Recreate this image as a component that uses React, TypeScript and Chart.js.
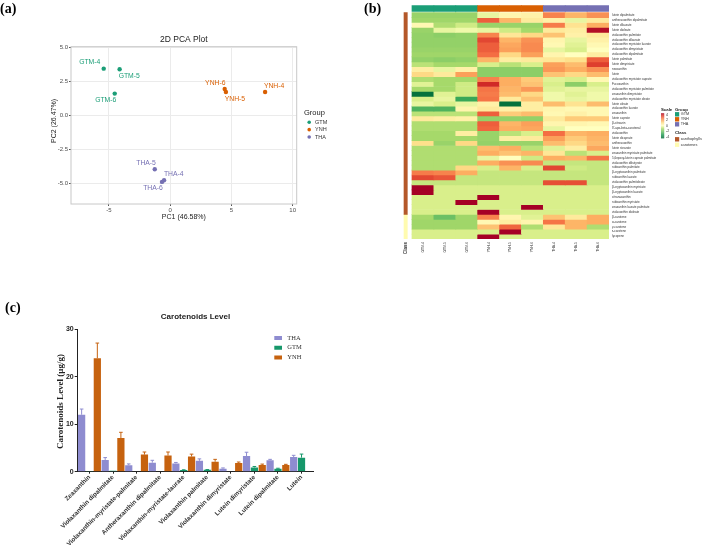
import React, { useEffect, useRef } from 'react';
import { Chart, registerables } from 'chart.js';

Chart.register(...registerables);

const SANS = '"Liberation Sans", Arial, Helvetica, sans-serif';
const SERIF = '"Liberation Serif", "Times New Roman", serif';

// ---------------- Panel (a): PCA ----------------
const pcaGroups = ['GTM', 'YNH', 'THA'];
const pcaColors = ['#1b9e77', '#d95f02', '#7570b3'];
const gtmSamples = ['GTM-4', 'GTM-5', 'GTM-6'];
const gtmPC1 = [-5.43, -4.13, -4.53];
const gtmPC2 = [3.45, 3.41, 1.61];
const ynhSamples = ['YNH-4', 'YNH-5', 'YNH-6'];
const ynhPC1 = [7.75, 4.55, 4.45];
const ynhPC2 = [1.73, 1.73, 1.95];
const thaSamples = ['THA-4', 'THA-5', 'THA-6'];
const thaPC1 = [-0.5, -1.26, -0.67];
const thaPC2 = [-4.78, -3.97, -4.9];
const pc1Ticks = [-5, 0, 5, 10];
const pc2Ticks = [-5, -2.5, 0, 2.5, 5];

// ---------------- Panel (b): heatmap ----------------
const heatColumns = ['GTM-4', 'GTM-5', 'GTM-6', 'YNH-4', 'YNH-5', 'YNH-6', 'THA-4', 'THA-5', 'THA-6'];
const columnGroups = ['GTM', 'GTM', 'GTM', 'YNH', 'YNH', 'YNH', 'THA', 'THA', 'THA'];
const metabolites = [
  'lutein dipalmitate', 'antheraxanthin dipalmitate', 'lutein dilaurate', 'lutein dioleate',
  'violaxanthin palmitate', 'violaxanthin dilaurate', 'violaxanthin myristate laurate',
  'violaxanthin dimyristate', 'violaxanthin dipalmitate', 'lutein palmitate', 'lutein dimyristate',
  'neoxanthin', 'lutein', 'violaxanthin myristate caprate', 'Fucoxanthin',
  'violaxanthin myristate palmitate', 'zeaxanthin dimyristate', 'violaxanthin myristate oleate',
  'lutein oleate', 'violaxanthin laurate', 'zeaxanthin', 'lutein caprate', 'β-citraurin',
  "8'-apo-beta-carotenal", 'violaxanthin', 'lutein dicaprate', 'antheraxanthin', 'lutein stearate',
  'zeaxanthin myristate palmitate', '5,6epoxy-lutein caprate palmitate', 'violaxanthin dibutyrate',
  'rubixanthin palmitate', 'β-cryptoxanthin palmitate', 'rubixanthin laurate',
  'violaxanthin palmitoleate', 'β-cryptoxanthin myristate', 'β-cryptoxanthin laurate',
  'citranaxanthin', 'rubixanthin myristate', 'zeaxanthin laurate palmitate', 'violaxanthin dioleate',
  'β-carotene', 'α-carotene', 'γ-carotene', 'ε-carotene', 'lycopene'
];
const classNames = ['xanthophylls', 'carotenes'];
const classRowCounts = [41, 5];
const classColors = ['#b4582a', '#fffbb0'];

const gtmScores = [
  [-1.2, -1.2, -1.2], [-1.1, -1.1, -1.1], [0.2, -0.9, -0.6], [-1.2, -0.3, -0.2],
  [-1.3, -1.4, -1.3], [-1.3, -1.3, -1.3], [-1.3, -1.3, -1.3], [-1.2, -1.2, -1.2],
  [-1.1, -1.1, -1.1], [-1.3, -1.4, -1.3], [-0.8, -1.0, -1.0], [0.5, -0.3, 0.4],
  [1.0, 0.6, 1.8], [-0.9, -1.0, -1.0], [-0.4, -1.0, -0.6], [-1.0, -1.0, -0.6],
  [-3.8, -0.4, -0.6], [-0.5, -0.3, -2.6], [-0.3, -0.5, -0.3], [-2.3, -2.3, 0.3],
  [-0.8, -0.8, -0.8], [0.6, 0.5, 0.4], [-0.9, -0.9, -0.9], [-0.9, -0.9, -0.9],
  [-1.0, -1.0, 0.5], [-1.0, -1.0, -1.0], [0.9, -1.2, 1.0], [-0.9, -0.9, -0.9],
  [-0.9, -0.9, -0.9], [-0.9, -0.9, -0.9], [-0.9, -0.9, -0.9], [-0.9, -0.9, 1.0],
  [2.3, 2.2, 1.6], [3.0, 2.8, -0.7], [-0.7, -0.7, -0.7], [4, -0.5, -0.5],
  [4, -0.5, -0.5], [-0.5, -0.5, -0.5], [-0.5, -0.5, 4], [-0.5, -0.5, -0.5],
  [-0.5, -0.5, -0.5], [-1.0, -1.9, -1.1], [-1.1, -1.1, -1.1], [-1.1, -1.1, -1.1],
  [-0.5, -0.5, -0.5], [-0.5, -0.5, -0.5]
];
const ynhScores = [
  [-0.3, 0.3, 0.4], [2.7, 1.5, 0.6], [-1.2, -1.2, -1.2], [-0.3, -0.6, -1.0],
  [2.2, 0.7, 1.0], [3.0, 1.5, 2.0], [2.7, 1.7, 2.1], [2.7, 1.8, 2.1],
  [2.5, 1.0, 1.8], [1.5, 0.5, 0.6], [-0.5, -0.8, -0.5], [-1.4, -1.4, -1.4],
  [-1.4, -1.4, -1.4], [2.2, 1.6, 1.2], [3.4, 1.6, 1.3], [2.4, 1.5, 1.9],
  [2.3, 1.4, 1.0], [2.4, 0.6, 1.3], [0.4, -3.8, 0.5], [0.6, 0.4, 0.5],
  [2.7, 1.2, 1.4], [-1.3, -1.3, -1.3], [2.7, 1.5, 1.8], [2.6, 1.6, 1.7],
  [-1.2, -0.8, -0.5], [-1.2, 0.5, 0.6], [-1.3, -1.2, -1.2], [1.4, 1.6, -0.8],
  [1.6, 1.3, 1.5], [-0.3, 0.0, -0.6], [1.6, 2.0, 2.1], [-0.5, 1.5, -0.5],
  [-0.7, -0.7, -0.7], [-0.7, -0.7, -0.7], [-0.7, -0.7, -0.7], [-0.5, -0.5, -0.5],
  [-0.5, -0.5, -0.5], [4, -0.5, -0.5], [-0.5, -0.5, -0.5], [-0.5, -0.5, 4],
  [4, -0.5, -0.5], [2.2, 0.3, -0.4], [0.2, 0.5, 0.3], [1.3, 2.6, -0.9],
  [-0.5, 4, -0.5], [4, -0.5, -0.5]
];
const thaScores = [
  [2.2, 1.5, 2.0], [0.4, -0.3, 0.6], [2.3, 0.8, 1.6], [0.6, 0.5, 3.8],
  [1.3, 0.4, 0.6], [0.3, -0.3, 0.4], [0.2, -0.4, 0.2], [-0.3, -0.5, 0.0],
  [0.3, 0.0, 0.5], [0.7, 0.9, 2.7], [1.8, 1.4, 3.1], [1.9, 1.6, 2.0],
  [1.3, 1.0, 1.4], [-0.4, -0.5, 0.2], [-0.5, -1.4, -0.5], [-0.4, -0.3, -0.3],
  [-0.2, -0.4, -0.2], [-0.2, -0.3, -0.2], [1.4, 0.8, 1.4], [0.3, 0.2, 0.2],
  [0.2, 0.4, 0.2], [0.6, 1.2, 1.2], [0.3, 0.3, 0.2], [-0.3, 0.0, 0.0],
  [2.5, 1.5, 1.6], [1.8, 1.2, 1.5], [1.4, 1.0, 1.4], [-0.4, 0.5, 1.7],
  [0.7, -0.8, -0.5], [1.6, 1.5, 2.4], [-0.7, -0.7, -0.7], [3.0, -0.6, -0.7],
  [-0.7, -0.7, -0.7], [-0.7, -0.7, -0.7], [2.9, 2.9, -0.7], [-0.5, -0.5, -0.5],
  [-0.5, -0.5, -0.5], [-0.5, -0.5, -0.5], [-0.5, -0.5, -0.5], [-0.5, -0.5, -0.5],
  [-0.5, -0.5, -0.5], [1.3, 0.6, 1.6], [2.4, 1.5, 1.6], [0.7, 1.5, -0.9],
  [-0.5, -0.5, -0.5], [-0.5, -0.5, -0.5]
];
const scaleTicks = [4, 2, 0, -2, -4];

// ---------------- Panel (c): bar chart ----------------
const caroCategories = [
  'Zeaxanthin', 'Violaxanthin dipalmitate', 'Violaxanthin-myristate-palmitate',
  'Antheraxanthin dipalmitate', 'Violaxanthin-myristate-laurate', 'Violaxanthin palmitate',
  'Violaxanthin dimyristate', 'Lutein dimyristate', 'Lutein dipalmitate', 'Lutein'
];
const thaLevel = [12.0, 2.47, 1.34, 1.9, 1.75, 2.3, 0.64, 3.3, 2.4, 3.1];
const thaSD = [1.2, 0.5, 0.3, 0.5, 0.2, 0.4, 0.15, 0.8, 0.2, 0.35];
const gtmLevel = [0.05, 0.2, 0.12, 0.12, 0.35, 0.4, 0.1, 0.9, 0.63, 2.96];
const gtmSD = [0, 0, 0, 0, 0.05, 0.05, 0, 0.2, 0.1, 0.75];
const ynhLevel = [23.9, 7.1, 3.6, 3.4, 3.2, 2.1, 1.84, 1.4, 1.4, 0.1];
const ynhSD = [3.2, 1.2, 0.55, 0.75, 0.5, 0.5, 0.2, 0.2, 0.15, 0];
const barGroups = ['THA', 'GTM', 'YNH'];
const barColors = ['#8e8cd0', '#16976a', '#c6620f'];

// ---------------- helpers ----------------
const heatStops: [number, string][] = [
  [-4, '#006837'], [-3, '#1a9850'], [-2, '#66bd63'], [-1, '#a6d96a'], [-0.5, '#d9ef8b'],
  [0, '#ffffbf'], [0.9, '#fee08b'], [1.6, '#fdae61'], [2.5, '#f46d43'], [3.3, '#d73027'], [4, '#a50026']
];
function hexToRgb(h: string) {
  return [parseInt(h.slice(1, 3), 16), parseInt(h.slice(3, 5), 16), parseInt(h.slice(5, 7), 16)];
}
function heatColor(v: number) {
  const x = Math.max(-4, Math.min(4, v));
  for (let i = 0; i < heatStops.length - 1; i++) {
    const [a, ca] = heatStops[i];
    const [b, cb] = heatStops[i + 1];
    if (x >= a && x <= b) {
      const t = (x - a) / (b - a);
      const A = hexToRgb(ca), B = hexToRgb(cb);
      const c = A.map((u, k) => Math.round(u + (B[k] - u) * t));
      return `rgb(${c[0]},${c[1]},${c[2]})`;
    }
  }
  return heatStops[heatStops.length - 1][1];
}
function groupColor(g: string) {
  return pcaColors[pcaGroups.indexOf(g)];
}
function cellScore(r: number, j: number) {
  const g = columnGroups[j];
  const k = j % 3;
  if (g === 'GTM') return gtmScores[r][k];
  if (g === 'YNH') return ynhScores[r][k];
  return thaScores[r][k];
}

const labelNudge: Record<string, [number, number]> = {
  'GTM-4': [-14, -6.4], 'GTM-5': [9.6, 7], 'GTM-6': [-9, 6.3],
  'YNH-4': [9, -6], 'YNH-5': [9, 6.7], 'YNH-6': [-9.4, -6],
  'THA-4': [9.7, -6.6], 'THA-5': [-8.7, -6.3], 'THA-6': [-9, 6.7]
};

export default function App() {
  const refA = useRef<HTMLCanvasElement>(null);
  const refB = useRef<HTMLCanvasElement>(null);
  const refC = useRef<HTMLCanvasElement>(null);

  useEffect(() => {
    const charts: Chart[] = [];

    // ---------- (a) PCA ----------
    const pcaSets = [
      { names: gtmSamples, x: gtmPC1, y: gtmPC2 },
      { names: ynhSamples, x: ynhPC1, y: ynhPC2 },
      { names: thaSamples, x: thaPC1, y: thaPC2 }
    ];
    const pcaDecor = {
      id: 'pcaDecor',
      afterDraw(chart: any) {
        const { ctx, chartArea: a } = chart;
        ctx.save();
        ctx.strokeStyle = '#c8c8c8';
        ctx.lineWidth = 1;
        ctx.strokeRect(a.left, a.top, a.right - a.left, a.bottom - a.top);
        const cx = (a.left + a.right) / 2;
        ctx.fillStyle = '#222';
        ctx.textAlign = 'center';
        ctx.textBaseline = 'middle';
        ctx.font = `8.5px ${SANS}`;
        ctx.fillText('2D PCA Plot', cx, 39.3);
        ctx.font = `7px ${SANS}`;
        ctx.fillText('PC1 (46.58%)', cx, 216.7);
        ctx.save();
        ctx.translate(54.3, 121);
        ctx.rotate(-Math.PI / 2);
        ctx.fillText('PC2 (26.47%)', 0, 0);
        ctx.restore();
        // legend
        ctx.textAlign = 'left';
        ctx.font = `7.5px ${SANS}`;
        ctx.fillText('Group', 304, 113);
        ctx.font = `5.5px ${SANS}`;
        pcaGroups.forEach((g, i) => {
          const yy = 122.3 + i * 7.35;
          ctx.fillStyle = pcaColors[i];
          ctx.beginPath();
          ctx.arc(309.2, yy, 1.8, 0, Math.PI * 2);
          ctx.fill();
          ctx.fillStyle = '#333';
          ctx.fillText(g, 315, yy);
        });
        // point labels
        ctx.textAlign = 'center';
        ctx.font = `6.8px ${SANS}`;
        pcaSets.forEach((s, d) => {
          const meta = chart.getDatasetMeta(d);
          ctx.fillStyle = pcaColors[d];
          s.names.forEach((n, i) => {
            const p = meta.data[i];
            const off = labelNudge[n] || [0, -6];
            ctx.fillText(n, p.x + off[0], p.y + off[1]);
          });
        });
        ctx.restore();
      }
    };
    if (refA.current) {
      charts.push(new Chart(refA.current, {
        type: 'scatter',
        data: {
          datasets: pcaSets.map((s, d) => ({
            label: pcaGroups[d],
            data: s.x.map((x, i) => ({ x, y: s.y[i] })),
            backgroundColor: pcaColors[d],
            borderColor: pcaColors[d],
            pointRadius: 2.2,
            pointHoverRadius: 2.2,
            borderWidth: 0
          }))
        },
        options: {
          responsive: false,
          animation: false,
          events: [],
          layout: { padding: { left: 0, top: 46.7, right: 58.3, bottom: 0 } },
          plugins: { legend: { display: false }, tooltip: { enabled: false } },
          scales: {
            x: {
              type: 'linear', min: -8.1, max: 10.33,
              afterBuildTicks: (ax: any) => { ax.ticks = pc1Ticks.map(v => ({ value: v })); },
              afterFit: (ax: any) => { ax.height = 36; },
              grid: { color: '#ebebeb', tickColor: '#555', tickLength: 2 },
              border: { display: false },
              ticks: { font: { family: SANS, size: 6 }, color: '#4d4d4d', padding: 1, callback: (v: any) => String(v) }
            },
            y: {
              type: 'linear', min: -6.53, max: 5.07,
              afterBuildTicks: (ax: any) => { ax.ticks = pc2Ticks.map(v => ({ value: v })); },
              afterFit: (ax: any) => { ax.width = 71; },
              grid: { color: '#ebebeb', tickColor: '#555', tickLength: 2 },
              border: { display: false },
              ticks: { font: { family: SANS, size: 6 }, color: '#4d4d4d', padding: 1, callback: (v: any) => Number(v).toFixed(1) }
            }
          }
        },
        plugins: [pcaDecor]
      } as any));
    }

    // ---------- (b) heatmap ----------
    const colW = 21.95;
    const classX = -0.29;
    const heatSets: any[] = metabolites.map((name, r) => ({
      label: name,
      data: heatColumns.map((_, j) => ({ x: j + 0.5, y: [r, r + 1] })),
      backgroundColor: heatColumns.map((_, j) => heatColor(cellScore(r, j))),
      barThickness: colW,
      grouped: false,
      borderWidth: 0
    }));
    heatSets.push({
      label: 'Group',
      data: heatColumns.map((_, j) => ({ x: j + 0.5, y: [-1.46, -0.26] })),
      backgroundColor: columnGroups.map(g => groupColor(g)),
      barThickness: colW,
      grouped: false,
      borderWidth: 0
    });
    let acc = 0;
    classNames.forEach((c, k) => {
      const start = acc;
      acc += classRowCounts[k];
      heatSets.push({
        label: c,
        data: [{ x: classX, y: [start, acc] }],
        backgroundColor: classColors[k],
        barThickness: 3.3,
        grouped: false,
        borderWidth: 0
      });
    });
    const heatLegend = {
      id: 'heatLegend',
      afterDraw(chart: any) {
        const { ctx } = chart;
        ctx.save();
        ctx.textBaseline = 'middle';
        ctx.textAlign = 'left';
        ctx.fillStyle = '#222';
        ctx.font = `bold 4.3px ${SANS}`;
        ctx.fillText('Scale', 261, 109.5);
        ctx.fillText('Group', 275, 109.5);
        ctx.fillText('Class', 275, 132.7);
        // color bar
        const top = 113.3, h = 25;
        for (let yy = 0; yy < h; yy++) {
          ctx.fillStyle = heatColor(4 - 8 * (yy + 0.5) / h);
          ctx.fillRect(261, top + yy, 3.2, 1.05);
        }
        ctx.fillStyle = '#333';
        ctx.font = `3.6px ${SANS}`;
        scaleTicks.forEach(v => {
          ctx.fillText(String(v), 266, 115 + (4 - v) / 8 * 21.7);
        });
        ctx.font = `3.8px ${SANS}`;
        pcaGroups.forEach((g, i) => {
          const yy = 114.3 + i * 5;
          ctx.fillStyle = groupColor(g);
          ctx.fillRect(275, yy - 2.2, 4.2, 4.4);
          ctx.fillStyle = '#333';
          ctx.fillText(g, 280.7, yy);
        });
        classNames.forEach((c, i) => {
          const yy = 139.3 + i * 5.4;
          ctx.fillStyle = classColors[i];
          ctx.fillRect(275, yy - 2.2, 4.2, 4.4);
          ctx.fillStyle = '#333';
          ctx.fillText(c, 280.7, yy);
        });
        ctx.restore();
      }
    };
    if (refB.current) {
      charts.push(new Chart(refB.current, {
        type: 'bar',
        data: { datasets: heatSets },
        options: {
          responsive: false,
          animation: false,
          events: [],
          layout: { padding: { left: 2, top: 2, right: 0, bottom: 0 } },
          plugins: { legend: { display: false }, tooltip: { enabled: false } },
          scales: {
            x: {
              type: 'linear', min: -0.457, max: 9, offset: false,
              afterBuildTicks: (ax: any) => {
                ax.ticks = [{ value: classX }, ...heatColumns.map((_, j) => ({ value: j + 0.5 }))];
              },
              afterFit: (ax: any) => { ax.height = 31; },
              grid: { display: false, drawTicks: false },
              border: { display: false },
              ticks: {
                autoSkip: false, minRotation: 90, maxRotation: 90, padding: 3, color: '#333',
                font: (c: any) => ({ family: SANS, size: c.index === 0 ? 4.5 : 3.4, weight: c.index === 0 ? 'bold' : 'normal' }),
                callback: (_v: any, i: number) => (i === 0 ? 'Class' : heatColumns[i - 1])
              }
            },
            y: {
              type: 'linear', position: 'right', reverse: true, min: -1.6, max: 46,
              afterBuildTicks: (ax: any) => { ax.ticks = metabolites.map((_, r) => ({ value: r + 0.5 })); },
              afterFit: (ax: any) => { ax.width = 100; },
              grid: { display: false, drawTicks: false },
              border: { display: false },
              ticks: {
                autoSkip: false, padding: 3, color: '#333',
                font: { family: SANS, size: 3 },
                callback: (_v: any, i: number) => metabolites[i]
              }
            }
          }
        },
        plugins: [heatLegend]
      } as any));
    }

    // ---------- (c) bar chart ----------
    const levels = [thaLevel, gtmLevel, ynhLevel];
    const sds = [thaSD, gtmSD, ynhSD];
    const barDecor = {
      id: 'barDecor',
      afterDatasetsDraw(chart: any) {
        const { ctx } = chart;
        const ys = chart.scales.y;
        ctx.save();
        levels.forEach((lv, d) => {
          const meta = chart.getDatasetMeta(d);
          ctx.strokeStyle = barColors[d];
          ctx.lineWidth = 1;
          lv.forEach((v, i) => {
            const sd = sds[d][i];
            if (!sd) return;
            const el = meta.data[i];
            const yTop = ys.getPixelForValue(v + sd);
            ctx.beginPath();
            ctx.moveTo(el.x, el.y);
            ctx.lineTo(el.x, yTop);
            ctx.moveTo(el.x - 1.8, yTop);
            ctx.lineTo(el.x + 1.8, yTop);
            ctx.stroke();
          });
        });
        ctx.restore();
      },
      afterDraw(chart: any) {
        const { ctx, chartArea: a } = chart;
        ctx.save();
        ctx.fillStyle = '#222';
        ctx.textAlign = 'center';
        ctx.textBaseline = 'middle';
        ctx.font = `bold 8px ${SANS}`;
        ctx.fillText('Carotenoids Level', 195.5, 27);
        ctx.font = `bold 9px ${SERIF}`;
        ctx.save();
        ctx.translate(61, (a.top + a.bottom) / 2 + 1);
        ctx.rotate(-Math.PI / 2);
        ctx.fillText('Carotenoids Level (μg/g)', 0, 0);
        ctx.restore();
        ctx.textAlign = 'left';
        ctx.font = `6.5px ${SERIF}`;
        barGroups.forEach((g, i) => {
          const yy = 48 + i * 9.75;
          ctx.fillStyle = barColors[i];
          ctx.fillRect(274.3, yy - 2, 7.7, 4);
          ctx.fillStyle = '#333';
          ctx.fillText(g, 287.3, yy);
        });
        ctx.restore();
      }
    };
    if (refC.current) {
      charts.push(new Chart(refC.current, {
        type: 'bar',
        data: {
          labels: caroCategories,
          datasets: barGroups.map((g, d) => ({
            label: g,
            data: levels[d],
            backgroundColor: barColors[d],
            borderWidth: 0,
            barPercentage: 0.92,
            categoryPercentage: 1.0
          }))
        },
        options: {
          responsive: false,
          animation: false,
          events: [],
          layout: { padding: { left: 0, top: 39.3, right: 41.7, bottom: 0 } },
          plugins: { legend: { display: false }, tooltip: { enabled: false } },
          scales: {
            x: {
              afterFit: (ax: any) => { ax.height = 77.3; },
              grid: { drawOnChartArea: false, offset: false, tickLength: 2, color: '#222' },
              border: { color: '#222', width: 1 },
              ticks: {
                autoSkip: false, minRotation: 45, maxRotation: 45, padding: 0, color: '#333',
                font: { family: SANS, size: 6.3, weight: 'bold' }
              }
            },
            y: {
              min: 0, max: 30,
              afterFit: (ax: any) => { ax.width = 77.7; },
              grid: { drawOnChartArea: false, tickLength: 3, color: '#222' },
              border: { color: '#222', width: 1 },
              ticks: { stepSize: 10, padding: 1, color: '#222', font: { family: SANS, size: 7, weight: 'bold' } }
            }
          }
        },
        plugins: [barDecor]
      } as any));
    }

    return () => { charts.forEach(c => c.destroy()); };
  }, []);

  const panelLabel: React.CSSProperties = {
    position: 'absolute', fontFamily: SERIF, fontWeight: 'bold', fontSize: 14, lineHeight: '14px', color: '#000'
  };

  return (
    <div style={{ position: 'fixed', left: 0, top: 0, width: 709, height: 549, background: '#fff', overflow: 'hidden' }}>
      <canvas ref={refA} width={355} height={240} style={{ position: 'absolute', left: 0, top: 0, display: 'block' }} />
      <canvas ref={refB} width={309} height={270} style={{ position: 'absolute', left: 400, top: 0, display: 'block' }} />
      <canvas ref={refC} width={355} height={259} style={{ position: 'absolute', left: 0, top: 290, display: 'block' }} />
      <div style={{ ...panelLabel, left: 0, top: 2 }}>(a)</div>
      <div style={{ ...panelLabel, left: 364, top: 2 }}>(b)</div>
      <div style={{ ...panelLabel, left: 5, top: 301 }}>(c)</div>
    </div>
  );
}
